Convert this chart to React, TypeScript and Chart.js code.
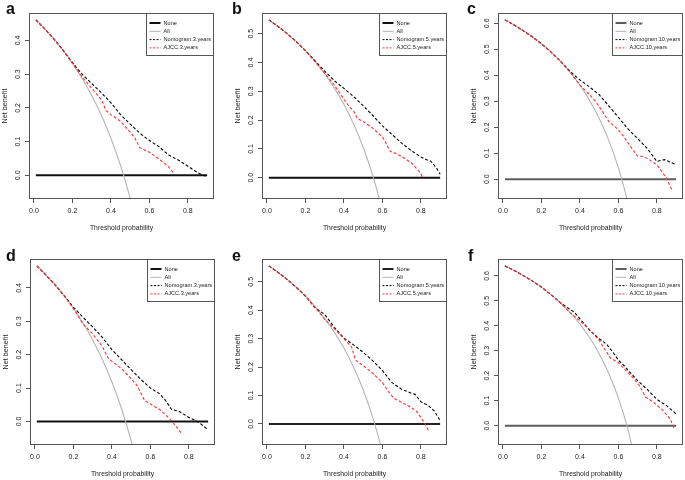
import React, { useEffect, useRef } from "react";
import { Chart, registerables } from "chart.js";

Chart.register(...registerables);

// ---------- data ----------
const xTicks = [0, 0.2, 0.4, 0.6, 0.8];
const yTicks4 = [0, 0.1, 0.2, 0.3, 0.4];
const yTicks5 = [0, 0.1, 0.2, 0.3, 0.4, 0.5];
const yTicks6 = [0, 0.1, 0.2, 0.3, 0.4, 0.5, 0.6];

const noneX = [0.01, 0.9];
const noneY = [0, 0];

const allX = [0.01, 0.05, 0.1, 0.15, 0.2, 0.25, 0.3, 0.35, 0.4, 0.45, 0.5, 0.55, 0.6, 0.65, 0.7];
const aAll = [0.461, 0.438, 0.407, 0.372, 0.333, 0.288, 0.237, 0.179, 0.11, 0.029, -0.068, -0.187, -0.335, -0.526, -0.78];
const bAll = [0.548, 0.529, 0.503, 0.474, 0.441, 0.404, 0.361, 0.312, 0.255, 0.187, 0.106, 0.007, -0.118, -0.277, -0.49];
const cAll = [0.613, 0.597, 0.574, 0.549, 0.521, 0.489, 0.453, 0.411, 0.362, 0.304, 0.234, 0.149, 0.043, -0.094, -0.277];
const dAll = [0.466, 0.443, 0.412, 0.378, 0.339, 0.295, 0.244, 0.186, 0.118, 0.038, -0.058, -0.176, -0.323, -0.512, -0.763];
const eAll = [0.556, 0.537, 0.511, 0.482, 0.45, 0.413, 0.371, 0.323, 0.267, 0.2, 0.12, 0.022, -0.1, -0.257, -0.467];
const fAll = [0.64, 0.625, 0.604, 0.581, 0.555, 0.525, 0.491, 0.452, 0.407, 0.353, 0.288, 0.209, 0.11, -0.017, -0.187];

const aNomX = [0.01, 0.05, 0.1, 0.15, 0.2, 0.25, 0.3, 0.35, 0.4, 0.45, 0.5, 0.55, 0.6, 0.65, 0.7, 0.75, 0.8, 0.85, 0.9];
const aNomY = [0.461, 0.438, 0.407, 0.372, 0.334, 0.3, 0.272, 0.245, 0.215, 0.18, 0.152, 0.125, 0.103, 0.085, 0.06, 0.045, 0.027, 0.008, -0.005];
const aAjX = [0.01, 0.05, 0.1, 0.15, 0.2, 0.25, 0.3, 0.35, 0.375, 0.4, 0.45, 0.5, 0.525, 0.55, 0.6, 0.65, 0.7, 0.73];
const aAjY = [0.461, 0.438, 0.407, 0.372, 0.332, 0.292, 0.258, 0.225, 0.192, 0.18, 0.16, 0.128, 0.11, 0.082, 0.068, 0.048, 0.025, 0.004];

const bNomX = [0.01, 0.05, 0.1, 0.15, 0.2, 0.25, 0.3, 0.35, 0.4, 0.45, 0.5, 0.55, 0.6, 0.65, 0.7, 0.75, 0.8, 0.83, 0.85, 0.88, 0.9];
const bNomY = [0.548, 0.529, 0.503, 0.474, 0.441, 0.406, 0.37, 0.337, 0.31, 0.282, 0.25, 0.216, 0.18, 0.15, 0.12, 0.094, 0.072, 0.062, 0.058, 0.035, 0.012];
const bAjX = [0.01, 0.05, 0.1, 0.15, 0.2, 0.25, 0.3, 0.35, 0.4, 0.43, 0.45, 0.47, 0.5, 0.55, 0.6, 0.62, 0.64, 0.67, 0.7, 0.75, 0.8, 0.81];
const bAjY = [0.548, 0.529, 0.503, 0.474, 0.441, 0.403, 0.362, 0.322, 0.272, 0.245, 0.232, 0.205, 0.195, 0.172, 0.142, 0.118, 0.092, 0.084, 0.074, 0.052, 0.015, -0.003];

const cNomX = [0.01, 0.05, 0.1, 0.15, 0.2, 0.25, 0.3, 0.35, 0.4, 0.45, 0.5, 0.55, 0.6, 0.65, 0.7, 0.75, 0.8, 0.82, 0.84, 0.87, 0.9];
const cNomY = [0.613, 0.597, 0.574, 0.549, 0.521, 0.489, 0.453, 0.414, 0.382, 0.355, 0.325, 0.282, 0.238, 0.193, 0.156, 0.118, 0.068, 0.072, 0.075, 0.065, 0.055];
const cAjX = [0.01, 0.05, 0.1, 0.15, 0.2, 0.25, 0.3, 0.35, 0.4, 0.45, 0.48, 0.5, 0.53, 0.55, 0.6, 0.63, 0.66, 0.7, 0.73, 0.76, 0.8, 0.83, 0.85, 0.88];
const cAjY = [0.613, 0.597, 0.574, 0.549, 0.521, 0.489, 0.453, 0.411, 0.362, 0.325, 0.3, 0.28, 0.245, 0.222, 0.19, 0.162, 0.128, 0.088, 0.088, 0.075, 0.055, 0.025, 0.003, -0.045];

const dNomX = [0.01, 0.05, 0.1, 0.15, 0.2, 0.25, 0.3, 0.35, 0.4, 0.45, 0.5, 0.55, 0.6, 0.65, 0.68, 0.71, 0.75, 0.8, 0.85, 0.9];
const dNomY = [0.466, 0.443, 0.412, 0.378, 0.342, 0.312, 0.283, 0.252, 0.215, 0.185, 0.155, 0.126, 0.1, 0.082, 0.062, 0.036, 0.03, 0.012, -0.002, -0.025];
const dAjX = [0.01, 0.05, 0.1, 0.15, 0.2, 0.25, 0.3, 0.35, 0.38, 0.4, 0.45, 0.5, 0.53, 0.57, 0.6, 0.65, 0.7, 0.73, 0.76];
const dAjY = [0.466, 0.443, 0.412, 0.378, 0.338, 0.292, 0.262, 0.225, 0.19, 0.18, 0.158, 0.128, 0.108, 0.063, 0.052, 0.035, 0.008, -0.012, -0.035];

const eNomX = [0.01, 0.05, 0.1, 0.15, 0.2, 0.25, 0.28, 0.3, 0.35, 0.4, 0.45, 0.5, 0.55, 0.6, 0.65, 0.7, 0.75, 0.77, 0.8, 0.84, 0.87, 0.9];
const eNomY = [0.556, 0.537, 0.511, 0.482, 0.45, 0.408, 0.395, 0.385, 0.34, 0.302, 0.278, 0.252, 0.222, 0.188, 0.145, 0.122, 0.108, 0.104, 0.078, 0.064, 0.045, 0.012];
const eAjX = [0.01, 0.05, 0.1, 0.15, 0.2, 0.25, 0.3, 0.35, 0.4, 0.44, 0.46, 0.5, 0.55, 0.6, 0.63, 0.66, 0.7, 0.75, 0.78, 0.82, 0.84];
const eAjY = [0.556, 0.537, 0.511, 0.482, 0.45, 0.41, 0.368, 0.335, 0.3, 0.27, 0.225, 0.205, 0.178, 0.145, 0.115, 0.09, 0.076, 0.058, 0.042, 0.002, -0.024];

const fNomX = [0.01, 0.05, 0.1, 0.15, 0.2, 0.25, 0.3, 0.35, 0.37, 0.4, 0.45, 0.5, 0.54, 0.58, 0.6, 0.63, 0.65, 0.7, 0.75, 0.8, 0.85, 0.9];
const fNomY = [0.64, 0.625, 0.604, 0.581, 0.555, 0.525, 0.491, 0.465, 0.455, 0.428, 0.383, 0.348, 0.325, 0.285, 0.262, 0.24, 0.222, 0.18, 0.145, 0.105, 0.08, 0.047];
const fAjX = [0.01, 0.05, 0.1, 0.15, 0.2, 0.25, 0.3, 0.35, 0.4, 0.45, 0.5, 0.53, 0.56, 0.6, 0.63, 0.68, 0.71, 0.74, 0.78, 0.83, 0.87, 0.89];
const fAjY = [0.64, 0.625, 0.604, 0.581, 0.555, 0.525, 0.491, 0.452, 0.42, 0.385, 0.342, 0.305, 0.27, 0.252, 0.228, 0.188, 0.16, 0.115, 0.095, 0.062, 0.025, -0.013];

const labels3 = ["None", "All", "Nomogram.3.years", "AJCC.3.years"];
const labels5 = ["None", "All", "Nomogram.5.years", "AJCC.5.years"];
const labels10 = ["None", "All", "Nomogram.10.years", "AJCC.10.years"];

const xTitle = "Threshold probability";
const yTitle = "Net benefit";

// ---------- styling ----------
const FONT = "'Liberation Sans', Arial, Helvetica, sans-serif";
const TEXT = "#222";
const AXIS = "#555";
const RED = "#ff3030";
const GRAY = "#b4b4b4";
const BOX_W = 185;
const BOX_H = 186;
const PAD_L = 30;
const PAD_T = 14;
const X_AXIS_H = 36;

type PanelCfg = {
  letter: string; left: number; top: number; yMin: number; yMax: number; yTicks: number[];
  all: number[]; nomX: number[]; nomY: number[]; ajX: number[]; ajY: number[]; labels: string[]; noneColor: string;
};

const panels: PanelCfg[] = [
  { letter: "a", left: 29, top: 13, yMin: -0.0704, yMax: 0.4814, yTicks: yTicks4, all: aAll, nomX: aNomX, nomY: aNomY, ajX: aAjX, ajY: aAjY, labels: labels3, noneColor: "#111" },
  { letter: "b", left: 262, top: 13, yMin: -0.0739, yMax: 0.5719, yTicks: yTicks5, all: bAll, nomX: bNomX, nomY: bNomY, ajX: bAjX, ajY: bAjY, labels: labels5, noneColor: "#111" },
  { letter: "c", left: 498, top: 13, yMin: -0.0765, yMax: 0.6395, yTicks: yTicks6, all: cAll, nomX: cNomX, nomY: cNomY, ajX: cAjX, ajY: cAjY, labels: labels10, noneColor: "#5e5e5e" },
  { letter: "d", left: 30, top: 259, yMin: -0.0706, yMax: 0.4866, yTicks: yTicks4, all: dAll, nomX: dNomX, nomY: dNomY, ajX: dAjX, ajY: dAjY, labels: labels3, noneColor: "#111" },
  { letter: "e", left: 262, top: 259, yMin: -0.0742, yMax: 0.5802, yTicks: yTicks5, all: eAll, nomX: eNomX, nomY: eNomY, ajX: eAjX, ajY: eAjY, labels: labels5, noneColor: "#222" },
  { letter: "f", left: 498, top: 259, yMin: -0.0776, yMax: 0.6676, yTicks: yTicks6, all: fAll, nomX: fNomX, nomY: fNomY, ajX: fAjX, ajY: fAjY, labels: labels10, noneColor: "#5e5e5e" },
];

const letterPos: Record<string, { x: number; y: number }> = {
  a: { x: 6, y: 1 }, b: { x: 232, y: 1 }, c: { x: 467, y: 1 },
  d: { x: 6, y: 248 }, e: { x: 232, y: 248 }, f: { x: 468, y: 248 },
};

const pts = (xs: number[], ys: number[]) => xs.map((x, i) => ({ x, y: ys[i] }));

function makeBoxLegendPlugin(cfg: PanelCfg) {
  return {
    id: "boxLegend",
    afterDatasetsDraw(chart: any) {
      const { ctx, chartArea } = chart;
      const l = Math.round(chartArea.left) + 0.5;
      const t = Math.round(chartArea.top) + 0.5;
      const r = Math.round(chartArea.right) - 0.5;
      const b = Math.round(chartArea.bottom) - 0.5;
      ctx.save();
      // legend
      ctx.font = `5.6px ${FONT}`;
      const tw = Math.max(...cfg.labels.map((s) => ctx.measureText(s).width));
      const lw = Math.round(17 + tw + 2);
      const lh = 42;
      const lx = r - lw;
      const ly = t;
      ctx.fillStyle = "#fff";
      ctx.fillRect(lx, ly, lw, lh);
      ctx.strokeStyle = AXIS;
      ctx.lineWidth = 1;
      ctx.setLineDash([]);
      ctx.strokeRect(lx, ly, lw, lh);
      const styles = [
        { c: cfg.noneColor, w: 2, d: [] as number[] },
        { c: GRAY, w: 1, d: [] as number[] },
        { c: "#000", w: 1, d: [2, 1.5] },
        { c: RED, w: 1, d: [2, 1.5] },
      ];
      cfg.labels.forEach((lab, i) => {
        const yy = ly + 9.5 + i * 8.3;
        ctx.strokeStyle = styles[i].c;
        ctx.lineWidth = styles[i].w;
        ctx.setLineDash(styles[i].d);
        ctx.beginPath();
        ctx.moveTo(lx + 3, yy);
        ctx.lineTo(lx + 14, yy);
        ctx.stroke();
        ctx.setLineDash([]);
        ctx.fillStyle = TEXT;
        ctx.textBaseline = "middle";
        ctx.textAlign = "left";
        ctx.fillText(lab, lx + 17, yy);
      });
      // plot box
      ctx.strokeStyle = AXIS;
      ctx.lineWidth = 1;
      ctx.strokeRect(l, t, r - l, b - t);
      ctx.restore();
    },
  };
}

function Panel({ cfg }: { cfg: PanelCfg }) {
  const ref = useRef<HTMLCanvasElement | null>(null);
  const cw = PAD_L + BOX_W + 2;
  const ch = PAD_T + BOX_H + X_AXIS_H;
  useEffect(() => {
    if (!ref.current) return;
    const tickFont = { family: FONT, size: 7 };
    const chart = new Chart(ref.current, {
      type: "line",
      data: {
        datasets: [
          { label: cfg.labels[3], data: pts(cfg.ajX, cfg.ajY), borderColor: RED, borderWidth: 1.1, borderDash: [3, 2], pointRadius: 0, tension: 0 },
          { label: cfg.labels[2], data: pts(cfg.nomX, cfg.nomY), borderColor: "#000", borderWidth: 1.1, borderDash: [3, 2], pointRadius: 0, tension: 0 },
          { label: cfg.labels[1], data: pts(allX, cfg.all), borderColor: GRAY, borderWidth: 1.1, pointRadius: 0, cubicInterpolationMode: "monotone" },
          { label: cfg.labels[0], data: pts(noneX, noneY), borderColor: cfg.noneColor, borderWidth: 2, pointRadius: 0 },
        ] as any,
      },
      options: {
        animation: false,
        responsive: false,
        maintainAspectRatio: false,
        events: [],
        layout: { padding: { top: PAD_T, right: 2, left: 0, bottom: 0 } },
        plugins: { legend: { display: false }, tooltip: { enabled: false } },
        scales: {
          x: {
            type: "linear",
            min: -0.0256,
            max: 0.9356,
            afterBuildTicks: (s: any) => { s.ticks = xTicks.map((v) => ({ value: v })); },
            afterFit: (s: any) => { s.height = X_AXIS_H; },
            border: { display: false },
            grid: { display: true, drawOnChartArea: false, drawTicks: true, tickLength: 4, color: AXIS, tickColor: AXIS, lineWidth: 1 },
            ticks: { font: tickFont, color: TEXT, padding: 4, maxRotation: 0, minRotation: 0, autoSkip: false, callback: (v: any) => Number(v).toFixed(1) },
            title: { display: true, text: xTitle, font: { family: FONT, size: 6.8 }, color: TEXT, padding: { top: 0, bottom: 3 } },
          },
          y: {
            type: "linear",
            min: cfg.yMin,
            max: cfg.yMax,
            afterBuildTicks: (s: any) => { s.ticks = cfg.yTicks.map((v) => ({ value: v })); },
            afterFit: (s: any) => { s.width = PAD_L; },
            border: { display: false },
            grid: { display: true, drawOnChartArea: false, drawTicks: true, tickLength: 4, color: AXIS, tickColor: AXIS, lineWidth: 1 },
            ticks: { font: tickFont, color: TEXT, padding: 2, minRotation: 90, maxRotation: 90, crossAlign: "center", autoSkip: false, callback: (v: any) => Number(v).toFixed(1) },
            title: { display: true, text: yTitle, font: { family: FONT, size: 7.2 }, color: TEXT, padding: { top: 2, bottom: 0 } },
          },
        },
      } as any,
      plugins: [makeBoxLegendPlugin(cfg)],
    });
    return () => chart.destroy();
  }, []);
  return (
    <canvas
      ref={ref}
      width={cw}
      height={ch}
      style={{ position: "absolute", left: cfg.left - PAD_L, top: cfg.top - PAD_T, width: cw, height: ch }}
    />
  );
}

export default function App() {
  return (
    <div style={{ position: "absolute", left: 0, top: 0, width: 685, height: 480, overflow: "hidden", background: "#fff" }}>
      {panels.map((p) => (
        <Panel key={p.letter} cfg={p} />
      ))}
      {panels.map((p) => (
        <div
          key={"L" + p.letter}
          style={{
            position: "absolute",
            left: letterPos[p.letter].x,
            top: letterPos[p.letter].y,
            font: `bold 16px ${FONT}`,
            lineHeight: "16px",
            color: "#111",
          }}
        >
          {p.letter}
        </div>
      ))}
    </div>
  );
}
